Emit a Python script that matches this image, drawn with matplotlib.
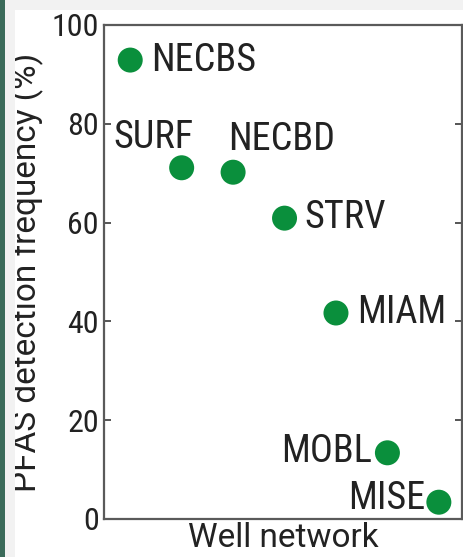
import matplotlib
matplotlib.use("Agg")
import matplotlib.pyplot as plt
from matplotlib.patches import Rectangle

networks = ["NECBS", "SURF", "NECBD", "STRV", "MIAM", "MOBL", "MISE"]
frequency = [92.9, 71.1, 70.2, 60.9, 41.7, 13.4, 3.4]
yticks = [0, 20, 40, 60, 80, 100]

# label offsets in pixels and alignment
label_offsets = [(21, 0), (-28, 30), (-5, 33), (20, 1), (21, 1), (-15, 1), (-13, 4)]
label_ha = ["left", "center", "left", "left", "left", "right", "right"]

W, H = 464, 557
fig = plt.figure(figsize=(W / 100, H / 100), dpi=100, facecolor="white")

# frame decorations
fig.patches.append(Rectangle((0, 0), 5 / W, 1, transform=fig.transFigure,
                             facecolor="#3b6b5a", edgecolor="none", zorder=0))
fig.patches.append(Rectangle((5 / W, 0), 10 / W, 1, transform=fig.transFigure,
                             facecolor="#f2f2f2", edgecolor="none", zorder=0))
fig.patches.append(Rectangle((5 / W, 1 - 10 / H), 1, 10 / H, transform=fig.transFigure,
                             facecolor="#f2f2f2", edgecolor="none", zorder=0))

ax = fig.add_axes([104.5 / W, 1 - 519 / H, (462 - 104.5) / W, (519 - 25) / H])
ax.set_facecolor("white")

x = list(range(1, len(networks) + 1))
ax.scatter(x, frequency, s=18 ** 2, color="#0a8f3c", edgecolor="none", zorder=3)

narrow = ["Roboto Condensed", "DejaVu Sans"]
regular = ["Roboto", "DejaVu Sans"]
for xi, yi, name, off, ha in zip(x, frequency, networks, label_offsets, label_ha):
    ax.annotate(name, (xi, yi), xytext=off, textcoords="offset pixels",
                ha=ha, va="center", fontsize=27.5, family=narrow, color="#222222")

ax.set_xlim(0.5, 7.45)
ax.set_ylim(0, 100)
ax.set_xticks([])
ax.set_yticks(yticks)
ax.set_yticklabels([str(t) for t in yticks], family=narrow, fontsize=23, color="#222222")
ax.tick_params(axis="y", direction="in", length=5, width=1.4, color="#555555",
               right=True, pad=4)

for sp in ax.spines.values():
    sp.set_color("#5a5a5a")
    sp.set_linewidth(1.6)

ax.set_xlabel("Well network", family=regular, fontsize=24,
              color="#222222", labelpad=2)
ax.set_ylabel("PFAS detection frequency (%)", family=regular,
              fontsize=24, color="#222222", labelpad=5)

fig.savefig("out.png", dpi=100, facecolor="white")
